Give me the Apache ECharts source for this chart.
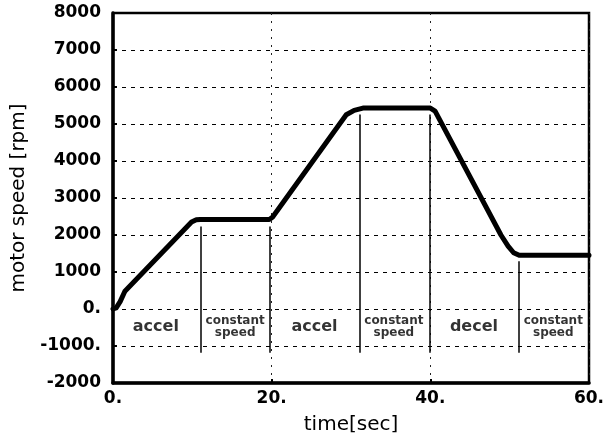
<!DOCTYPE html>
<html>
<head>
<meta charset="utf-8">
<script src="https://cdn.jsdelivr.net/npm/echarts@6/dist/echarts.min.js"></script>
<style>html,body{margin:0;padding:0;background:#fff;}#c{width:610px;height:440px;}</style>
</head>
<body>
<div id="c"></div>
<script>
// motor speed profile
const times  = [0, 0.4, 0.9, 1.5, 9.9, 10.5, 11.0, 19.7, 20.1, 29.4, 30.4, 31.5, 40.0, 40.6, 48.9, 49.8, 50.5, 51.2, 60];
const speeds = [0, 30, 200, 480, 2350, 2410, 2420, 2420, 2480, 5250, 5370, 5430, 5430, 5350, 2000, 1700, 1520, 1450, 1450];

// phase separators
const sepTimes = [11.0, 19.8, 31.1, 39.9, 51.1];
const sepTops = [2230, 2230, 5260, 5260, 1290];
const sepBottom = -1180;

// phase labels
const phaseNames = ['accel', 'constant\nspeed', 'accel', 'constant\nspeed', 'decel', 'constant\nspeed'];
const phaseCenters = [5.4, 15.4, 25.4, 35.4, 45.5, 55.5];
const phaseLevel = -480;

// tick labels
const yTickValues = [-2000, -1000, 0, 1000, 2000, 3000, 4000, 5000, 6000, 7000, 8000];
const yTickLabels = ['-2000', '-1000.', '0.', '1000', '2000', '3000', '4000', '5000', '6000', '7000', '8000'];
const xTickValues = [0, 20, 40, 60];
const xTickLabels = ['0.', '20.', '40.', '60.'];

const chart = echarts.init(document.getElementById('c'));
const font = 'DejaVu Sans';

const lineData = times.map((t, i) => [t, speeds[i]]);
const sepData = sepTimes.map((t, i) => [{coord: [t, sepTops[i]]}, {coord: [t, sepBottom]}]);
const phaseData = phaseNames.map((n, i) => {
  const multi = n.indexOf('\n') >= 0;
  return {
    value: [phaseCenters[i], phaseLevel],
    name: n,
    label: multi ? {fontSize: 12, lineHeight: 12} : {fontSize: 16, lineHeight: 16}
  };
});

chart.setOption({
  animation: false,
  backgroundColor: '#fff',
  grid: {left: 113, right: 21, top: 13, bottom: 55, show: true, borderColor: '#000', borderWidth: 2.5, backgroundColor: 'transparent'},
  xAxis: {
    type: 'value', min: 0, max: 60, interval: 20,
    name: 'time[sec]', nameLocation: 'middle', nameGap: 32,
    nameTextStyle: {fontFamily: font, fontSize: 20, color: '#000'},
    axisLine: {show: true, onZero: false, lineStyle: {color: '#000', width: 3.5}},
    axisTick: {show: true, inside: true, length: 4, lineStyle: {color: '#000', width: 2}},
    axisLabel: {
      margin: 7, fontFamily: font, fontSize: 17, fontWeight: 'bold', color: '#000',
      formatter: v => { const k = xTickValues.indexOf(v); return k >= 0 ? xTickLabels[k] : ''; }
    },
    splitLine: {show: true, lineStyle: {color: '#222', width: 1, type: [2, 6]}}
  },
  yAxis: {
    type: 'value', min: -2000, max: 8000, interval: 1000,
    name: 'motor speed [rpm]', nameLocation: 'middle', nameGap: 83,
    nameTextStyle: {fontFamily: font, fontSize: 20, color: '#000'},
    axisLine: {show: true, onZero: false, lineStyle: {color: '#000', width: 3.5}},
    axisTick: {show: true, inside: true, length: 4, lineStyle: {color: '#000', width: 2}},
    axisLabel: {
      margin: 12, fontFamily: font, fontSize: 17, fontWeight: 'bold', color: '#000',
      formatter: v => { const k = yTickValues.indexOf(v); return k >= 0 ? yTickLabels[k] : ''; }
    },
    splitLine: {show: true, lineStyle: {color: '#000', width: 1, type: [4, 5]}}
  },
  series: [
    {
      type: 'line', data: lineData, symbol: 'none', smooth: false,
      lineStyle: {color: '#000', width: 5, join: 'round', cap: 'round'},
      z: 5,
      markLine: {
        silent: true, symbol: 'none', label: {show: false},
        lineStyle: {color: '#000', width: 1.5, type: 'solid'},
        data: sepData
      }
    },
    {
      type: 'scatter', data: phaseData, symbolSize: 0, silent: true,
      label: {
        show: true, position: 'inside', formatter: p => p.name,
        fontFamily: font, fontWeight: 'bold', color: '#000', align: 'center', verticalAlign: 'middle'
      }
    }
  ]
});
</script>
</body>
</html>
